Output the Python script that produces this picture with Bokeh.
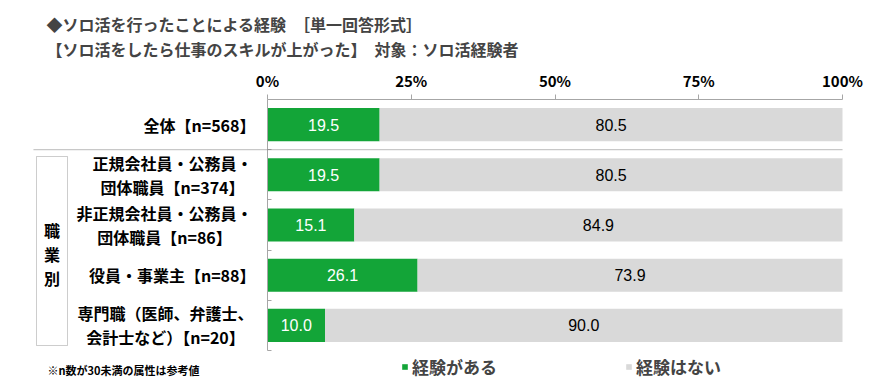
from bokeh.plotting import figure
from bokeh.models import (Range1d, FixedTicker, PrintfTickFormatter, Title,
                          LinearAxis, BoxAnnotation, ColumnDataSource, Legend, LegendItem)
from bokeh.core.properties import value
from bokeh.embed import file_html
from bokeh.resources import INLINE

# ---------------- data ----------------
categories = [
    "全体【n=568】",
    "正規会社員・公務員・\n団体職員【n=374】",
    "非正規会社員・公務員・\n団体職員【n=86】",
    "役員・事業主【n=88】",
    "専門職（医師、弁護士、\n会計士など）【n=20】",
]
series_yes = [19.5, 19.5, 15.1, 26.1, 10.0]
series_no = [80.5, 80.5, 84.9, 73.9, 90.0]
series_names = ["経験がある", "経験はない"]
x_ticks = [0, 25, 50, 75, 100]
group_label = ["職", "業", "別"]
title_lines = [
    "◆ソロ活を行ったことによる経験　［単一回答形式］",
    "【ソロ活をしたら仕事のスキルが上がった】　対象：ソロ活経験者",
]
note_text = "※n数が30未満の属性は参考値"

# ---------------- style / geometry ----------------
GREEN = "#13a538"
GRAY = "#d9d9d9"
AXIS = "#a6a6a6"
SEP = "#808080"
JP = "Noto Sans CJK JP"
NUM = "Liberation Sans Narrow, Liberation Sans, Arial"

W, H = 877, 387
TOP = 99                 # frame top (x axis line)
X0, X1 = 267, 842        # pixel position of 0% and 100%
ROWS_BOTTOM = 350        # pixel bottom of last row
PX_PER_X = (X1 - X0) / 100
ROW_PX = (ROWS_BOTTOM - TOP) / len(categories)


def px2x(px):
    return (px - X0) / PX_PER_X


def py2y(py):
    return (py - TOP) / ROW_PX


p = figure(width=W, height=H, title=None,
           x_range=Range1d(px2x(0), px2x(W)), y_range=Range1d(py2y(H), 0),
           x_axis_location="above", y_axis_type=None,
           output_backend="svg", toolbar_location=None,
           min_border_left=0, min_border_right=0, min_border_top=TOP,
           min_border_bottom=0)
p.outline_line_color = None
p.grid.visible = False
p.background_fill_color = "white"
p.border_fill_color = "white"

xa = p.xaxis[0]
xa.bounds = (0, 100)
xa.ticker = FixedTicker(ticks=x_ticks)
xa.formatter = PrintfTickFormatter(format="%d%%")
xa.axis_line_color = AXIS
xa.major_tick_line_color = AXIS
xa.major_tick_out = 5
xa.major_tick_in = 0
xa.minor_tick_line_color = None
xa.major_label_text_font = JP
xa.major_label_text_font_style = "bold"
xa.major_label_text_font_size = "15px"
xa.major_label_text_color = "black"
xa.major_label_standoff = 4

ya = LinearAxis(fixed_location=0, bounds=(0, len(categories)),
                ticker=FixedTicker(ticks=list(range(len(categories) + 1))),
                axis_line_color=AXIS, major_tick_line_color=AXIS,
                major_tick_in=4, major_tick_out=0, minor_tick_line_color=None,
                major_label_text_color=None, major_label_text_font_size="0px",
                major_label_standoff=0)
p.add_layout(ya, "left")

# two-line title above the axis
p.add_layout(Title(text="\n".join(title_lines), align="left", offset=46, standoff=10,
                   text_font=JP, text_font_style="bold", text_font_size="16px",
                   text_line_height=1.08), "above")

ys = [i + 0.5 for i in range(len(categories))]
src = ColumnDataSource(dict(
    y=ys, yes=series_yes, no=series_no,
    x_yes=[v / 2 for v in series_yes],
    x_no=[a + b / 2 for a, b in zip(series_yes, series_no)],
    t_yes=[f"{v:.1f}" for v in series_yes],
    t_no=[f"{v:.1f}" for v in series_no],
))
rs = p.hbar_stack(["yes", "no"], y="y", height=0.66, color=[GREEN, GRAY],
                  line_color=None, source=src)
p.text(x="x_yes", y="y", text="t_yes", source=src, text_align="center",
       text_baseline="middle", text_color="white", text_font=value(NUM),
       text_font_size="16px")
p.text(x="x_no", y="y", text="t_no", source=src, text_align="center",
       text_baseline="middle", text_color="black", text_font=value(NUM),
       text_font_size="16px")

# category labels
one_y, one_t = [], []
two_y, two_t, two_xo, two_yo = [], [], [], []
centers2 = {1: 172, 2: 164, 4: 165}
for i, cat in enumerate(categories):
    lines = cat.split("\n")
    if len(lines) == 1:
        one_y.append(ys[i]); one_t.append(lines[0])
    else:
        for k, ln in enumerate(lines):
            two_y.append(ys[i]); two_t.append(ln)
            two_xo.append(centers2[i] - X0)
            two_yo.append(-12 if k == 0 else 12)
p.text(x=[0] * len(one_y), y=one_y, text=one_t, x_offset=255 - X0, text_align="right",
       text_baseline="middle", text_font=value(JP), text_font_style="bold",
       text_font_size="16px")
p.text(x=[0] * len(two_y), y=two_y, text=two_t, x_offset=two_xo, y_offset=two_yo,
       text_align="center", text_baseline="middle", text_font=value(JP),
       text_font_style="bold", text_font_size="16px")

# separator and group box
p.add_layout(BoxAnnotation(left=px2x(33), right=100, top=1, bottom=1,
                           fill_alpha=0, line_color=SEP, line_width=1))
p.add_layout(BoxAnnotation(left=px2x(36), right=px2x(67), top=py2y(156), bottom=py2y(345),
                           fill_alpha=0, line_color="#595959", line_width=1))
p.text(x=[px2x(51.5)] * 3, y=[py2y(229 + 24 * k) for k in range(3)], text=group_label,
       text_align="center", text_baseline="middle", text_font=value(JP),
       text_font_style="bold", text_font_size="16px")

# note
p.text(x=[px2x(47)], y=[py2y(369)], text=[note_text], text_align="left",
       text_baseline="middle", text_font=value(JP), text_font_style="bold",
       text_font_size="11px")

# legend (inside the frame, below the bars); location = bottom-left offset
legend = Legend(items=[LegendItem(label=series_names[j], renderers=[rs[j]]) for j in range(2)],
                orientation="horizontal", location=(401, 8),
                glyph_width=7, glyph_height=7, label_standoff=4, spacing=128,
                padding=0, margin=0, border_line_color=None,
                background_fill_alpha=0, label_text_font=JP,
                label_text_font_style="bold", label_text_font_size="17px",
                label_height=20, label_text_baseline="middle")
p.add_layout(legend, "center")

open("out.html", "w").write(file_html(p, INLINE))
